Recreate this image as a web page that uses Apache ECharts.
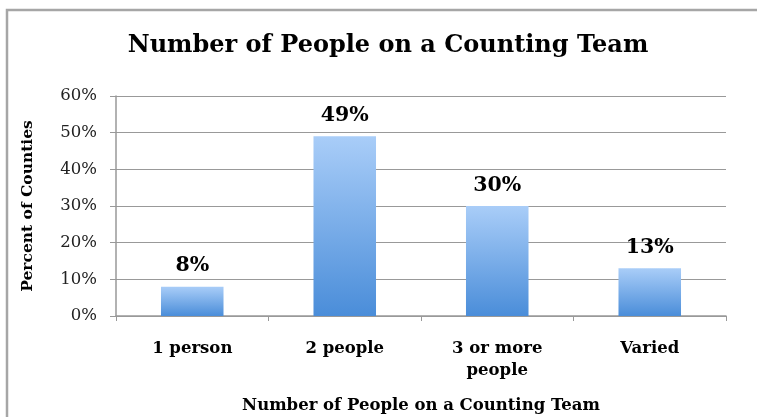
<!DOCTYPE html>
<html><head><meta charset="utf-8">
<script src="https://cdn.jsdelivr.net/npm/echarts@6/dist/echarts.min.js"></script>
<style>html,body{margin:0;padding:0;background:#fff}#c{width:757px;height:417px}</style>
</head><body><div id="c"></div>
<script>
const titleText = "Number of People on a Counting Team";
const categories = ["1 person", "2 people", "3 or more\npeople", "Varied"];
const values = [8, 49, 30, 13];
const yTicks = [0, 10, 20, 30, 40, 50, 60];
const yAxisName = "Percent of Counties";
const xAxisName = "Number of People on a Counting Team";
const font = "DejaVu Serif";

const chart = echarts.init(document.getElementById('c'));
chart.setOption({
  animation: false,
  backgroundColor: '#fff',
  title: { text: titleText, left: 383, top: 29, textAlign: 'center',
    textStyle: { fontFamily: font, fontWeight: 'bold', fontSize: 24, color: '#000' } },
  graphic: [{ type: 'rect', shape: { x: 7, y: 10, width: 800, height: 500 },
    style: { fill: 'none', stroke: '#a6a6a6', lineWidth: 2.5 }, silent: true }],
  grid: { left: 116, right: 31, top: 96, bottom: 101, outerBoundsMode: 'none', containLabel: false },
  xAxis: { type: 'category', data: categories,
    name: xAxisName, nameLocation: 'middle', nameGap: 81,
    nameTextStyle: { fontFamily: font, fontWeight: 'bold', fontSize: 16.5, color: '#000' },
    axisLine: { lineStyle: { color: '#999', width: 1.5 } },
    axisTick: { show: true, alignWithLabel: false, length: 5, lineStyle: { color: '#999' } },
    axisLabel: { fontFamily: font, fontWeight: 'bold', fontSize: 16.5, color: '#000', margin: 22, lineHeight: 22 } },
  yAxis: { type: 'value', min: yTicks[0], max: yTicks[yTicks.length-1], interval: 10,
    name: yAxisName, nameLocation: 'middle', nameGap: 80, nameRotate: 90,
    nameTextStyle: { fontFamily: font, fontWeight: 'bold', fontSize: 15.5, color: '#000' },
    axisLine: { show: true, lineStyle: { color: '#999', width: 1.5 } },
    axisTick: { show: true, length: 6, lineStyle: { color: '#999' } },
    splitLine: { lineStyle: { color: '#999', width: 1.2 } },
    axisLabel: { formatter: v => v + '%', fontFamily: font, fontSize: 16.5, color: '#222', margin: 19 } },
  series: [{ type: 'bar', data: values, barWidth: '41%',
    itemStyle: { color: new echarts.graphic.LinearGradient(0, 0, 0, 1, [
      { offset: 0, color: '#a9cdf8' }, { offset: 1, color: '#4a8dd9' }]) },
    label: { show: true, position: 'top', distance: 10, formatter: p => p.value + '%',
      fontFamily: font, fontWeight: 'bold', fontSize: 20.5, color: '#000' } }]
});
</script></body></html>
